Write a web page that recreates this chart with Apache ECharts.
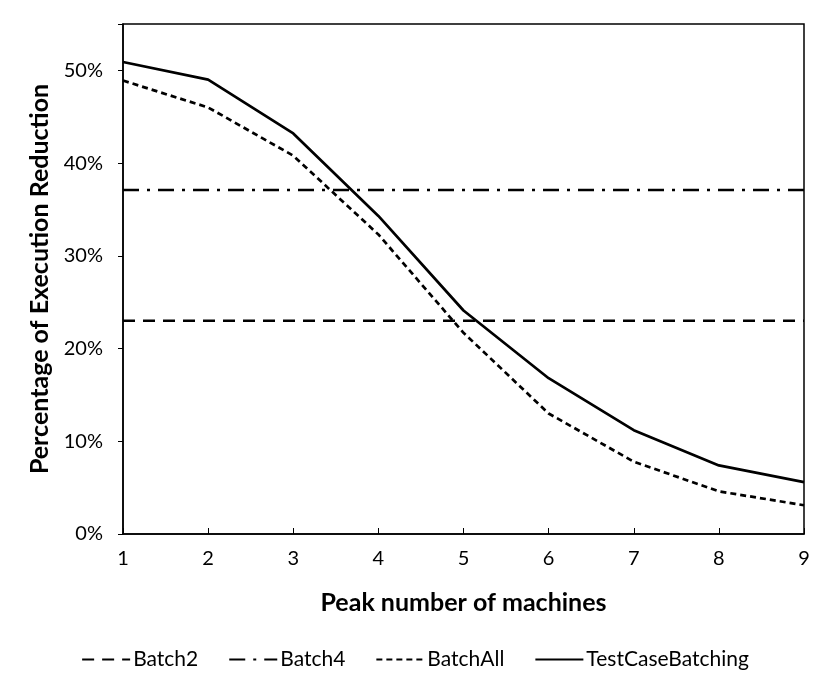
<!DOCTYPE html>
<html>
<head>
<meta charset="utf-8">
<script src="https://cdn.jsdelivr.net/npm/echarts@6/dist/echarts.min.js"></script>
<style>html,body{margin:0;padding:0;background:#fff}#c{width:830px;height:692px}</style>
</head>
<body>
<div id="c"></div>
<script>
const machines = [1, 2, 3, 4, 5, 6, 7, 8, 9];
const batch2 = [23.0, 23.0, 23.0, 23.0, 23.0, 23.0, 23.0, 23.0, 23.0];
const batch4 = [37.1, 37.1, 37.1, 37.1, 37.1, 37.1, 37.1, 37.1, 37.1];
const batchAll = [48.9, 46.0, 40.8, 32.3, 21.7, 13.0, 7.8, 4.6, 3.1];
const testCaseBatching = [50.9, 49.0, 43.2, 34.3, 24.1, 16.8, 11.2, 7.4, 5.6];
const yTicks = [0, 10, 20, 30, 40, 50];

const pair = arr => machines.map((m, i) => [m, arr[i]]);
const font = 'Lato, "Open Sans", sans-serif';

const chart = echarts.init(document.getElementById('c'));
const mk = (name, data, type) => ({
  name, type: 'line', data: pair(data), symbol: 'none', showSymbol: false, animation: false,
  lineStyle: { color: '#000', width: 2.7, type: type },
  itemStyle: { color: '#000' }
});
chart.setOption({
  animation: false,
  grid: { left: 123, right: 26, top: 24, bottom: 158 },
  xAxis: {
    type: 'value', min: 1, max: 9, interval: 1,
    name: 'Peak number of machines', nameLocation: 'middle', nameGap: 56,
    nameTextStyle: { fontFamily: font, fontSize: 25, fontWeight: 'bold', color: '#000' },
    axisLine: { lineStyle: { color: '#000', width: 1.5 } },
    axisTick: { inside: true, length: 6, lineStyle: { color: '#000' } },
    axisLabel: { fontFamily: font, fontSize: 20, color: '#000', margin: 15 },
    splitLine: { show: false }
  },
  yAxis: {
    type: 'value', min: 0, max: 55, interval: 10,
    name: 'Percentage of Execution Reduction', nameLocation: 'middle', nameGap: 68,
    nameTextStyle: { fontFamily: font, fontSize: 25, fontWeight: 'bold', color: '#000' },
    axisLine: { show: true, lineStyle: { color: '#000', width: 1.5 } },
    axisTick: { show: true, length: 5, lineStyle: { color: '#000' } },
    axisLabel: {
      fontFamily: font, fontSize: 20, color: '#000', margin: 20,
      formatter: v => yTicks.includes(v) ? v + '%' : ''
    },
    splitLine: { show: false }
  },
  graphic: [{
    type: 'rect', shape: { x: 123, y: 24, width: 681, height: 510 },
    style: { fill: 'none', stroke: '#000', lineWidth: 1.5 }, silent: true, z: 100
  }],
  legend: {
    bottom: 17, left: 'center', itemGap: 30, itemWidth: 48, itemHeight: 14,
    textStyle: { fontFamily: font, fontSize: 21, color: '#000', padding: [0, 0, 0, -2] },
    itemStyle: { color: 'rgba(0,0,0,0)', borderWidth: 0, opacity: 0 },
    data: ['Batch2', 'Batch4', 'BatchAll', 'TestCaseBatching']
  },
  series: [
    mk('Batch2', batch2, [12, 8]),
    mk('Batch4', batch4, [16, 8, 3, 8]),
    mk('BatchAll', batchAll, [6, 4]),
    mk('TestCaseBatching', testCaseBatching, 'solid')
  ]
});
</script>
</body>
</html>
